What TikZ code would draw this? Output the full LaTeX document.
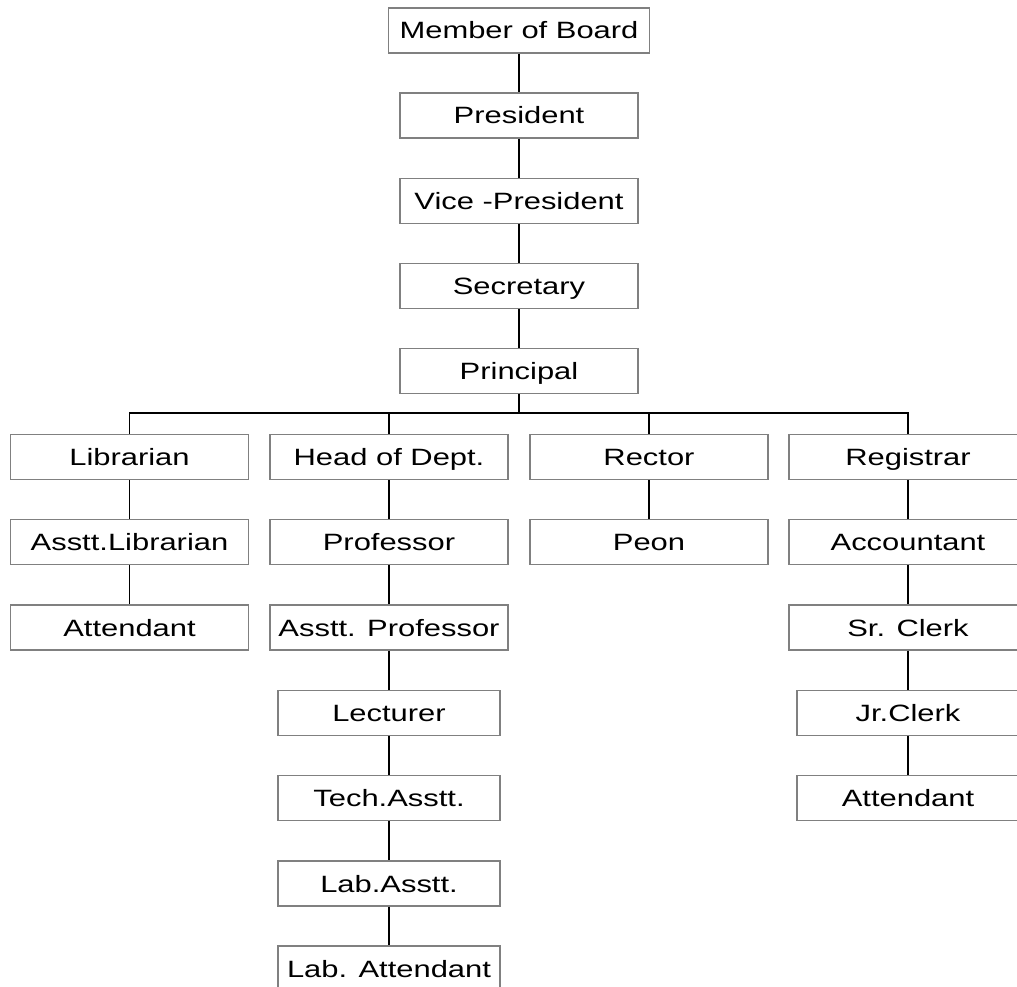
\documentclass[tikz,border=0pt]{standalone}
\usepackage{fontspec}
\setmainfont{Liberation Sans}
\usepackage{graphicx}
\newcommand{\wtxt}[1]{\scalebox{1.31}[1]{#1}}
\tikzset{
  box/.style={draw=black!50, line width=1.2pt, rectangle, inner sep=0pt,
    minimum width=238pt, minimum height=45pt, text height=17pt, text depth=0pt,
    font=\fontsize{23.6}{28}\selectfont},
  narrow/.style={box, minimum width=222pt},
  wide/.style={box, minimum width=261pt},
  link/.style={draw=black, line width=1.4pt}
}
\begin{document}
\begin{tikzpicture}[x=1pt, y=-1pt]
\useasboundingbox (0,0) rectangle (1017,987);
\clip (0,0) rectangle (1017,987);
% centre column
\node[wide] (mob) at (519,30.5) {\wtxt{Member of Board}};
\node[box] (pres) at (519,115.5) {\wtxt{President}};
\node[box] (vp) at (519,201) {\wtxt{Vice -President}};
\node[box] (sec) at (519,286) {\wtxt{Secretary}};
\node[box] (prin) at (519,371) {\wtxt{Principal}};
\coordinate (bus) at (519,413);
% column 1
\node[box] (lib) at (129.5,457) {\wtxt{Librarian}};
\node[box] (alib) at (129.5,542) {\wtxt{Asstt.Librarian}};
\node[box] (att1) at (129.5,627.5) {\wtxt{Attendant}};
% column 2
\node[box] (hod) at (389,457) {\wtxt{Head of Dept.}};
\node[box] (prof) at (389,542) {\wtxt{Professor}};
\node[box] (aprof) at (389,627.5) {\wtxt{Asstt. Professor}};
\node[narrow] (lect) at (389,713) {\wtxt{Lecturer}};
\node[narrow] (tech) at (389,798) {\wtxt{Tech.Asstt.}};
\node[narrow] (laba) at (389,883.5) {\wtxt{Lab.Asstt.}};
\node[narrow] (labatt) at (389,968.5) {\wtxt{Lab. Attendant}};
% column 3
\node[box] (rect) at (649,457) {\wtxt{Rector}};
\node[box] (peon) at (649,542) {\wtxt{Peon}};
% column 4
\node[box] (reg) at (908,457) {\wtxt{Registrar}};
\node[box] (acc) at (908,542) {\wtxt{Accountant}};
\node[box] (src) at (908,627.5) {\wtxt{Sr. Clerk}};
\node[narrow] (jrc) at (908,713) {\wtxt{Jr.Clerk}};
\node[narrow] (att2) at (908,798) {\wtxt{Attendant}};
% connectors
\draw[link] (mob) -- (pres);
\draw[link] (pres) -- (vp);
\draw[link] (vp) -- (sec);
\draw[link] (sec) -- (prin);
\draw[link] (prin) -- (bus);
\draw[link] (lib.north) |- (bus) -| (reg.north);
\draw[link] (hod.north) -- (hod.north |- bus);
\draw[link] (rect.north) -- (rect.north |- bus);
\draw[link] (lib) -- (alib);
\draw[link] (alib) -- (att1);
\draw[link] (hod) -- (prof);
\draw[link] (prof) -- (aprof);
\draw[link] (aprof) -- (lect);
\draw[link] (lect) -- (tech);
\draw[link] (tech) -- (laba);
\draw[link] (laba) -- (labatt);
\draw[link] (rect) -- (peon);
\draw[link] (reg) -- (acc);
\draw[link] (acc) -- (src);
\draw[link] (src) -- (jrc);
\draw[link] (jrc) -- (att2);
\end{tikzpicture}
\end{document}
